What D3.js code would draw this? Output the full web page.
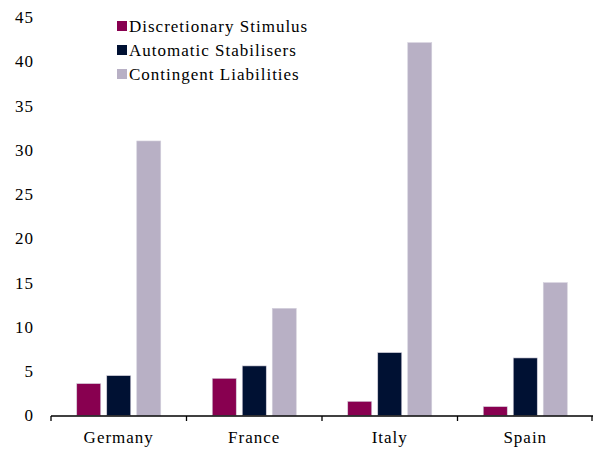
<!DOCTYPE html>
<html>
<head>
<meta charset="utf-8">
<script src="https://cdn.jsdelivr.net/npm/d3@7"></script>
<style>
  body { margin: 0; background: #fff; }
  text { font-family: "Liberation Serif", "Times New Roman", serif; fill: #000; }
</style>
</head>
<body>
<div class="container"></div>
<script>
// datos
const paises = ["Germany", "France", "Italy", "Spain"]
const series = ["Discretionary Stimulus", "Automatic Stabilisers", "Contingent Liabilities"]
const discrecional = [3.6, 4.2, 1.6, 1.0]
const automatico = [4.5, 5.6, 7.1, 6.5]
const contingente = [31.0, 12.1, 42.1, 15.0]
const yTicks = [0, 5, 10, 15, 20, 25, 30, 35, 40, 45]
const colores = ["#880050", "#001133", "#b8b0c5"]

const valores = [discrecional, automatico, contingente]

const dim = { WIDTH: 593, HEIGHT: 449 }
const margin = { left: 51, right: 0, top: 17, bottom: 33.5 }

const svg = d3.select(".container")
    .append("svg")
    .attr("width", dim.WIDTH)
    .attr("height", dim.HEIGHT)

const y = d3.scaleLinear()
    .domain([0, 45])
    .range([dim.HEIGHT - margin.bottom, margin.top])

const x0 = d3.scaleBand()
    .domain(paises)
    .range([margin.left, dim.WIDTH - margin.right])
    .paddingInner(0.38)
    .paddingOuter(0.19)

const x1 = d3.scaleBand()
    .domain(series)
    .range([0, x0.bandwidth()])
    .paddingInner(0.2)

// barras
const grupos = svg.append("g")
    .selectAll("g")
    .data(paises)
    .join("g")
    .attr("transform", d => `translate(${x0(d)},0)`)

grupos.selectAll("rect")
    .data((d, i) => series.map((s, j) => ({ s: s, v: valores[j][i], c: colores[j] })))
    .join("rect")
    .attr("x", d => x1(d.s))
    .attr("width", x1.bandwidth())
    .attr("y", d => y(d.v))
    .attr("height", d => y(0) - y(d.v))
    .attr("fill", d => d.c)
    .attr("stroke", "#d4d0dc")
    .attr("stroke-width", 0.6)

// eje y (solo etiquetas)
svg.append("g")
    .selectAll("text")
    .data(yTicks)
    .join("text")
    .attr("x", 34)
    .attr("y", d => y(d))
    .attr("dy", "0.35em")
    .attr("text-anchor", "end")
    .style("font-size", "17px")
    .style("letter-spacing", "1px")
    .text(d => d)

// eje x
const base = y(0) + 0.5
svg.append("line")
    .attr("x1", margin.left)
    .attr("x2", dim.WIDTH)
    .attr("y1", base)
    .attr("y2", base)
    .attr("stroke", "#000")
    .attr("stroke-width", 1.3)

const bordes = d3.range(paises.length + 1).map(i => x0.range()[0] + i * x0.step())
svg.append("g")
    .selectAll("line")
    .data(bordes)
    .join("line")
    .attr("x1", d => Math.min(d, dim.WIDTH - 1))
    .attr("x2", d => Math.min(d, dim.WIDTH - 1))
    .attr("y1", base)
    .attr("y2", base + 5)
    .attr("stroke", "#000")
    .attr("stroke-width", 1.3)

svg.append("g")
    .selectAll("text")
    .data(paises)
    .join("text")
    .attr("x", d => x0(d) + x0.bandwidth() / 2)
    .attr("y", 443)
    .attr("text-anchor", "middle")
    .style("font-size", "17px")
    .style("letter-spacing", "1px")
    .text(d => d)

// leyenda
const leyenda = svg.append("g")
    .attr("transform", "translate(117,21)")

leyenda.selectAll("rect")
    .data(series)
    .join("rect")
    .attr("x", 0)
    .attr("y", (_, i) => i * 24)
    .attr("width", 10)
    .attr("height", 10)
    .attr("fill", (_, i) => colores[i])

leyenda.selectAll("text")
    .data(series)
    .join("text")
    .attr("x", 12)
    .attr("y", (_, i) => i * 24 + 5)
    .attr("dy", "0.35em")
    .style("font-size", "17px")
    .style("letter-spacing", "1px")
    .text(d => d)
</script>
</body>
</html>
